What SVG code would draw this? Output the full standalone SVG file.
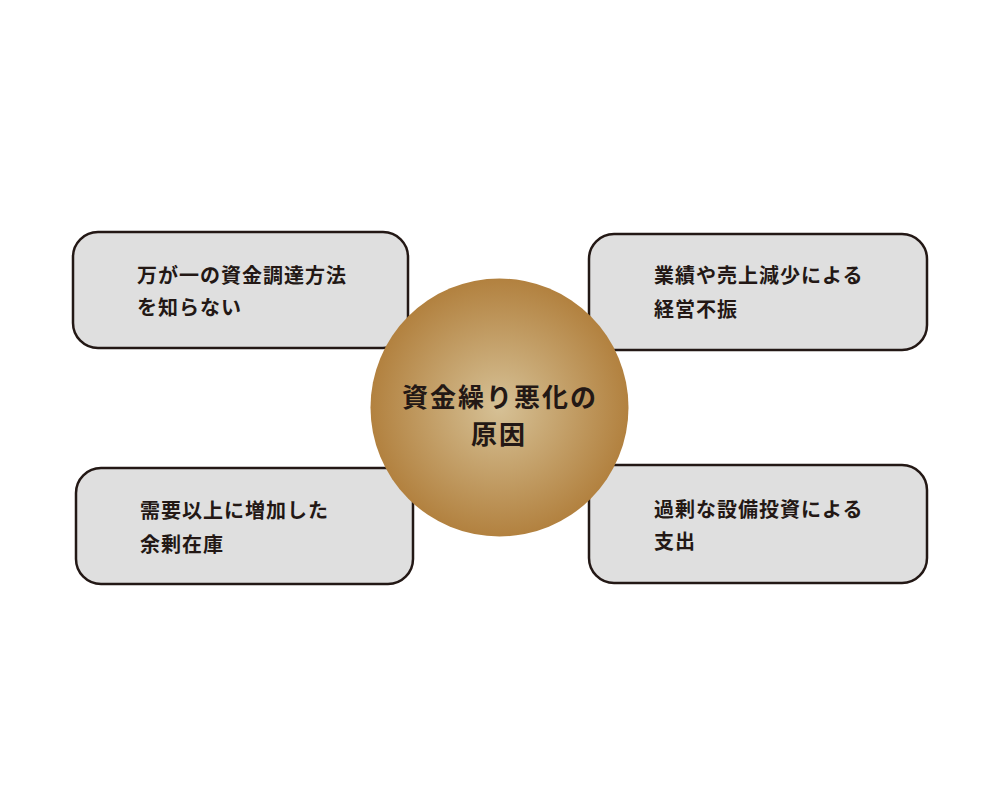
<svg xmlns="http://www.w3.org/2000/svg" width="992" height="800" viewBox="0 0 992 800">
<style>
.box{fill:#dfdfdf;stroke:#231815;stroke-width:2.5}
.t{font-family:"Noto Sans CJK JP","Noto Sans CJK SC",sans-serif;font-weight:bold;font-size:20px;letter-spacing:1px;fill:#231815}
.c{font-family:"Noto Sans CJK JP","Noto Sans CJK SC",sans-serif;font-weight:bold;font-size:26px;letter-spacing:2px;fill:#231815;text-anchor:middle}
</style>
<defs>
<radialGradient id="g" cx="0.5" cy="0.5" r="0.5">
<stop offset="0" stop-color="#d6c196"/>
<stop offset="1" stop-color="#b2813f"/>
</radialGradient>
</defs>
<rect width="992" height="800" fill="#ffffff"/>
<g id="connectors"></g>
<g id="node1">
<rect class="box" x="73" y="232" width="335" height="116" rx="25"/>
<text class="t" x="137" y="283">万が一の資金調達方法</text>
<text class="t" x="137" y="315">を知らない</text>
</g>
<g id="node2">
<rect class="box" x="589" y="234" width="338" height="116" rx="25"/>
<text class="t" x="654" y="283">業績や売上減少による</text>
<text class="t" x="654" y="317">経営不振</text>
</g>
<g id="node3">
<rect class="box" x="76" y="468" width="337" height="116" rx="25"/>
<text class="t" x="140" y="518">需要以上に増加した</text>
<text class="t" x="140" y="552">余剰在庫</text>
</g>
<g id="node4">
<rect class="box" x="589" y="465" width="338" height="118" rx="25"/>
<text class="t" x="654" y="517">過剰な設備投資による</text>
<text class="t" x="654" y="549">支出</text>
</g>
<g id="center">
<circle cx="499.5" cy="407.5" r="129" fill="url(#g)"/>
<text class="c" x="500" y="407">資金繰り悪化の</text>
<text class="c" x="499" y="444">原因</text>
</g>
</svg>
